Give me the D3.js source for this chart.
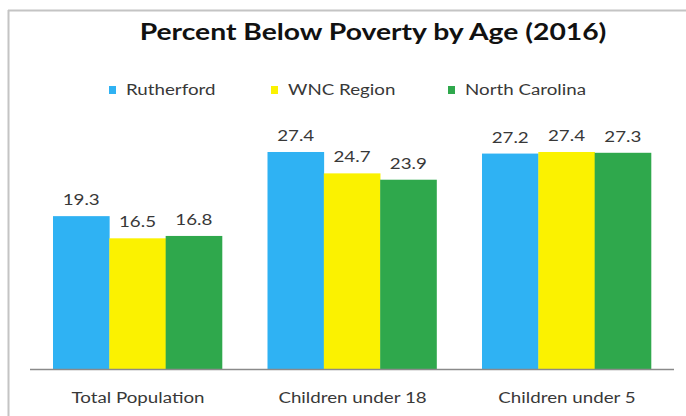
<!DOCTYPE html>
<html><head><meta charset="utf-8">
<script src="https://cdn.jsdelivr.net/npm/d3@7/dist/d3.min.js"></script>
<style>html,body{margin:0;padding:0;background:#fff;}svg{display:block;}</style>
</head><body>
<svg id="c" width="686" height="416"></svg>
<script>
const categories = ["Total Population", "Children under 18", "Children under 5"];
const seriesNames = ["Rutherford", "WNC Region", "North Carolina"];
const rutherford = [19.3, 27.4, 27.2];
const wncRegion = [16.5, 24.7, 27.4];
const northCarolina = [16.8, 23.9, 27.3];
const seriesValues = [rutherford, wncRegion, northCarolina];
const colors = ["#2fb2f3", "#fbf200", "#2fa84c"];
const title = "Percent Below Poverty by Age (2016)";

const svg = d3.select("#c");
const font = "Lato, 'Open Sans', sans-serif";
const SX = 1.25; // horizontal stretch of the reference picture

// frame
svg.append("line").attr("x1", 8.5).attr("x2", 8.5).attr("y1", 10).attr("y2", 416).attr("stroke", "#c4c4c4").attr("stroke-width", 2);
svg.append("line").attr("x1", 8).attr("x2", 686).attr("y1", 10.5).attr("y2", 10.5).attr("stroke", "#c4c4c4").attr("stroke-width", 2);

const gx = d3.scalePoint().domain(categories).range([53, 482]);
const x1 = d3.scaleBand().domain(seriesNames).range([0, 169]);
const y = d3.scaleLinear().domain([0, 30]).range([369, 131.4]);

const data = [];
categories.forEach((c, i) => seriesNames.forEach((s, j) => data.push({c, s, j, v: seriesValues[j][i]})));

svg.append("g").selectAll("rect").data(data).join("rect")
  .attr("x", d => gx(d.c) + x1(d.s))
  .attr("width", x1.bandwidth() + 0.3)
  .attr("y", d => y(d.v))
  .attr("height", d => y(0) - y(d.v))
  .attr("fill", d => colors[d.j]);

svg.append("g").selectAll("text").data(data).join("text")
  .attr("transform", d => `translate(${gx(d.c) + x1(d.s) + x1.bandwidth() / 2},${y(d.v) - 11}) scale(${SX},1)`)
  .attr("text-anchor", "middle")
  .attr("font-family", font).attr("font-size", 15).attr("fill", "#383838")
  .text(d => d.v.toFixed(1));

// axis
const axis = svg.append("g").attr("transform", `translate(0,${y(0)})`)
  .call(d3.axisBottom(d3.scalePoint().domain(categories).range([53 + 84.5, 482 + 84.5])).tickSize(0).tickPadding(23));
axis.select(".domain").remove();
axis.selectAll("text").attr("font-family", font).attr("font-size", 15).attr("fill", "#383838")
  .attr("transform", `scale(${SX},1)`).attr("dy", "0.71em");
axis.selectAll(".tick text").attr("x", 0);
svg.append("line").attr("x1", 30).attr("x2", 674).attr("y1", y(0) + 0.5).attr("y2", y(0) + 0.5).attr("stroke", "#8a8a8a").attr("stroke-width", 1.5);

// title
svg.append("text").attr("transform", `translate(373,40) scale(1.23,1)`).attr("text-anchor", "middle")
  .attr("font-family", font).attr("font-weight", "bold").attr("font-size", 23).attr("fill", "#111")
  .text(title);

// legend
const legX = [109, 271, 448];
const leg = svg.append("g").selectAll("g").data(seriesNames).join("g")
  .attr("transform", (d, i) => `translate(${legX[i]},90)`);
leg.append("rect").attr("x", 0).attr("y", -4).attr("width", 7).attr("height", 8).attr("fill", (d, i) => colors[i]);
leg.append("text").attr("transform", `translate(17,5) scale(${SX},1)`).attr("font-family", font).attr("font-size", 15).attr("fill", "#383838").text(d => d);
</script>
</body></html>
